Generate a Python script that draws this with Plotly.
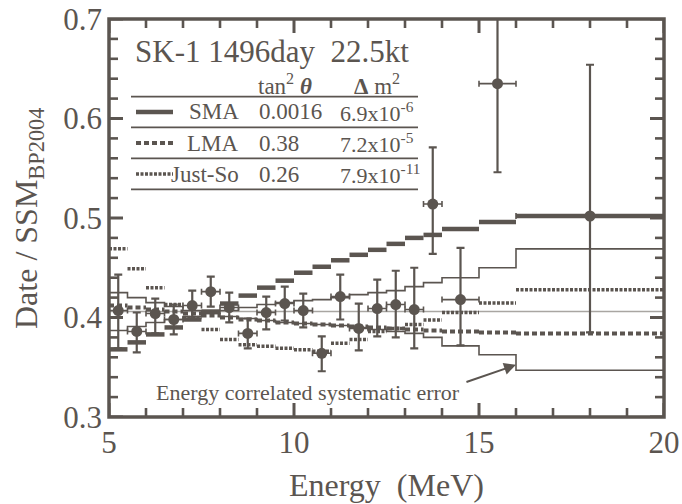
import plotly.graph_objects as go

INK = "#5b5550"
GRAY = "#a9a6a2"
SERIF = "Liberation Serif"

# ---- measured ratio per energy bin (MeV) ----
e_lo = [5.0, 5.5, 6.0, 6.5, 7.0, 7.5, 8.0, 8.5, 9.0, 9.5, 10.0, 10.5, 11.0, 11.5,
        12.0, 12.5, 13.0, 13.5, 14.0, 15.0, 16.0]
e_hi = [5.5, 6.0, 6.5, 7.0, 7.5, 8.0, 8.5, 9.0, 9.5, 10.0, 10.5, 11.0, 11.5, 12.0,
        12.5, 13.0, 13.5, 14.0, 15.0, 16.0, 20.0]
ratio = [0.407, 0.386, 0.404, 0.398, 0.412, 0.426, 0.410, 0.384, 0.405, 0.414, 0.407,
         0.364, 0.421, 0.389, 0.409, 0.413, 0.408, 0.514, 0.418, 0.635, 0.502]
err_up = [0.036, 0.019, 0.015, 0.015, 0.015, 0.015, 0.015, 0.015, 0.016, 0.017, 0.017,
          0.017, 0.022, 0.025, 0.029, 0.034, 0.042, 0.057, 0.052, 0.095, 0.152]
err_dn = [0.038, 0.021, 0.020, 0.015, 0.013, 0.015, 0.015, 0.015, 0.017, 0.017, 0.017,
          0.018, 0.023, 0.022, 0.028, 0.033, 0.039, 0.050, 0.046, 0.089, 0.117]

# ---- oscillation expectations per bin ----
sma = [0.368, 0.375, 0.383, 0.390, 0.398, 0.406, 0.414, 0.422, 0.430, 0.437, 0.445,
       0.451, 0.4575, 0.463, 0.468, 0.474, 0.480, 0.483, 0.489, 0.496, 0.502]
lma = [0.412, 0.410, 0.408, 0.406, 0.404, 0.402, 0.400, 0.398, 0.397, 0.395, 0.394,
       0.393, 0.392, 0.391, 0.390, 0.389, 0.388, 0.387, 0.386, 0.385, 0.384]
justso = [0.469, 0.449, 0.430, 0.413, 0.400, 0.388, 0.378, 0.3725, 0.371, 0.369, 0.3675,
          0.366, 0.374, 0.378, 0.386, 0.389, 0.393, 0.3975, 0.405, 0.4146, 0.428]

# ---- energy correlated systematic error band ----
sys_a = [0.387, 0.391, 0.395, 0.398, 0.401, 0.404, 0.407, 0.410, 0.413, 0.415, 0.417,
         0.418, 0.420, 0.423, 0.425, 0.427, 0.431, 0.435, 0.440, 0.450, 0.469]
sys_b = [0.425, 0.420, 0.415, 0.411, 0.407, 0.404, 0.401, 0.399, 0.397, 0.395, 0.394,
         0.393, 0.392, 0.390, 0.388, 0.386, 0.384, 0.380, 0.3715, 0.3625, 0.347]

mean_ratio = 0.406

# axis ticks
x_major = [5, 10, 15, 20]
x_minor = [6, 7, 8, 9, 11, 12, 13, 14, 16, 17, 18, 19]
y_major = [0.3, 0.4, 0.5, 0.6, 0.7]
y_minor = [0.32, 0.34, 0.36, 0.38, 0.42, 0.44, 0.46, 0.48, 0.52, 0.54, 0.56, 0.58,
           0.62, 0.64, 0.66, 0.68]

# legend table rows
models = ["SMA", "LMA", "Just-So"]
tan2 = ["0.0016", "0.38", "0.26"]
dm2 = ["6.9x10<sup>-6</sup>", "7.2x10<sup>-5</sup>", "7.9x10<sup>-11</sup>"]
styles = [dict(width=4.5, dash="solid"), dict(width=4, dash="5px,3px"),
          dict(width=3.5, dash="3px,1.5px")]

# plot-area geometry in pixels
W, H = 682, 504
L, R, T, B = 109, 18, 19, 87
PW, PH = W - L - R, H - T - B
X0, X1 = x_major[0], x_major[-1]
Y0, Y1 = y_major[0], y_major[-1]


def px(x):
    return (x - L) / PW


def py(y):
    return (H - B - y) / PH


def segments(vals):
    xs, ys = [], []
    for lo, hi, v in zip(e_lo, e_hi, vals):
        xs += [lo, hi, None]
        ys += [v, v, None]
    return xs, ys


def steps(vals):
    return list(e_lo) + [e_hi[-1]], list(vals) + [vals[-1]]


fig = go.Figure()

# tick marks on all four sides, as line traces in data units
for xt, yt, ln, wd in ((x_major, y_major, 14, 3), (x_minor, y_minor, 9, 2.6)):
    dy = ln / PH * (Y1 - Y0)
    dx = ln / PW * (X1 - X0)
    tx, ty = [], []
    for v in xt:
        tx += [v, v, None, v, v, None]
        ty += [Y0, Y0 + dy, None, Y1, Y1 - dy, None]
    for v in yt:
        tx += [X0, X0 + dx, None, X1, X1 - dx, None]
        ty += [v, v, None, v, v, None]
    fig.add_trace(go.Scatter(x=tx, y=ty, mode="lines", line=dict(color=INK, width=wd),
                             hoverinfo="skip"))

# average line
fig.add_trace(go.Scatter(x=[e_lo[0], e_hi[-1]], y=[mean_ratio, mean_ratio], mode="lines",
                         line=dict(color=GRAY, width=1.5), hoverinfo="skip"))

for band in (sys_a, sys_b):
    bx, by = steps(band)
    fig.add_trace(go.Scatter(x=bx, y=by, mode="lines", line_shape="hv",
                             line=dict(color=INK, width=1.6)))

for vals, st in zip((sma, lma, justso), styles):
    sx, sy = segments(vals)
    fig.add_trace(go.Scatter(x=sx, y=sy, mode="lines",
                             line=dict(color=INK, width=st["width"], dash=st["dash"])))

centers = [(a + b) / 2 for a, b in zip(e_lo, e_hi)]
half = [(b - a) / 2 for a, b in zip(e_lo, e_hi)]
fig.add_trace(go.Scatter(
    x=centers, y=ratio, mode="markers",
    marker=dict(color=INK, size=11, symbol="circle"),
    error_y=dict(type="data", array=err_up, arrayminus=err_dn, color=INK,
                 thickness=2.2, width=4),
    error_x=dict(type="data", array=half, color=INK, thickness=1.6, width=3),
))

axis_common = dict(showline=False, ticks="", showgrid=False, zeroline=False,
                   automargin=False, fixedrange=True,
                   tickfont=dict(family=SERIF, size=31, color=INK))

fig.update_layout(
    width=W, height=H,
    margin=dict(l=L, r=R, t=T, b=B, autoexpand=False),
    paper_bgcolor="white", plot_bgcolor="white",
    showlegend=False,
    xaxis=dict(range=[X0, X1], tickvals=x_major, ticklabelstandoff=4, **axis_common),
    yaxis=dict(range=[Y0, Y1], tickvals=y_major,
               ticktext=[f"{v:.1f}" for v in y_major], ticklabelstandoff=6,
               **axis_common),
)

shapes = [dict(type="rect", xref="paper", yref="paper", x0=0, x1=1, y0=0, y1=1,
               line=dict(color=INK, width=3.5), layer="above")]

ann = []
# axis titles
ann.append(dict(text="Energy  (MeV)", x=0.5, y=py(485), xref="paper", yref="paper",
                showarrow=False, xanchor="center", yanchor="middle",
                font=dict(family=SERIF, size=32, color=INK)))
ann.append(dict(text="Date / SSM<sub>BP2004</sub>", x=px(28), y=py(218), xref="paper",
                yref="paper", showarrow=False, textangle=-90, xanchor="center",
                yanchor="middle", font=dict(family=SERIF, size=32, color=INK)))

# table inside the frame
ann.append(dict(text="SK-1 1496day  22.5kt", x=px(133), y=py(51), xref="paper", yref="paper",
                showarrow=False, xanchor="left", yanchor="middle",
                font=dict(family=SERIF, size=31, color=INK)))
ann.append(dict(text="tan<sup>2</sup> <b><i>θ</i></b>", x=px(256), y=py(84), xref="paper",
                yref="paper", showarrow=False, xanchor="left", yanchor="middle",
                font=dict(family=SERIF, size=23, color=INK)))
ann.append(dict(text="<b>Δ</b> m<sup>2</sup>", x=px(352), y=py(84), xref="paper",
                yref="paper", showarrow=False, xanchor="left", yanchor="middle",
                font=dict(family=SERIF, size=23, color=INK)))

for ry in (96.7, 127.3, 158.3, 189.3):
    shapes.append(dict(type="line", xref="paper", yref="paper", x0=px(131), x1=px(418),
                       y0=py(ry), y1=py(ry), line=dict(color=INK, width=1.8)))

row_y = [112, 143, 174]
for name, t2, dm, st, ry in zip(models, tan2, dm2, styles, row_y):
    shapes.append(dict(type="line", xref="paper", yref="paper", x0=px(136), x1=px(173),
                       y0=py(ry), y1=py(ry),
                       line=dict(color=INK, width=st["width"], dash=st["dash"])))
    ann.append(dict(text=name, x=px(241), y=py(ry), xref="paper", yref="paper",
                    showarrow=False, xanchor="right", yanchor="middle",
                    font=dict(family=SERIF, size=23, color=INK)))
    ann.append(dict(text=t2, x=px(257), y=py(ry), xref="paper", yref="paper",
                    showarrow=False, xanchor="left", yanchor="middle",
                    font=dict(family=SERIF, size=23, color=INK)))
    ann.append(dict(text=dm, x=px(338), y=py(ry), xref="paper", yref="paper",
                    showarrow=False, xanchor="left", yanchor="middle",
                    font=dict(family=SERIF, size=22, color=INK)))

# systematic error label and arrow
ann.append(dict(text="Energy correlated systematic error", x=px(154), y=py(392),
                xref="paper", yref="paper", showarrow=False, xanchor="left",
                yanchor="middle", font=dict(family=SERIF, size=22, color=INK)))
ann.append(dict(text="", x=e_lo[-1], y=0.3524, xref="x", yref="y",
                ax=14.62, ay=0.3346, axref="x", ayref="y", showarrow=True,
                arrowhead=2, arrowsize=1.2, arrowwidth=2, arrowcolor=INK))

fig.update_layout(annotations=ann, shapes=shapes)
fig.write_html("out.html")
